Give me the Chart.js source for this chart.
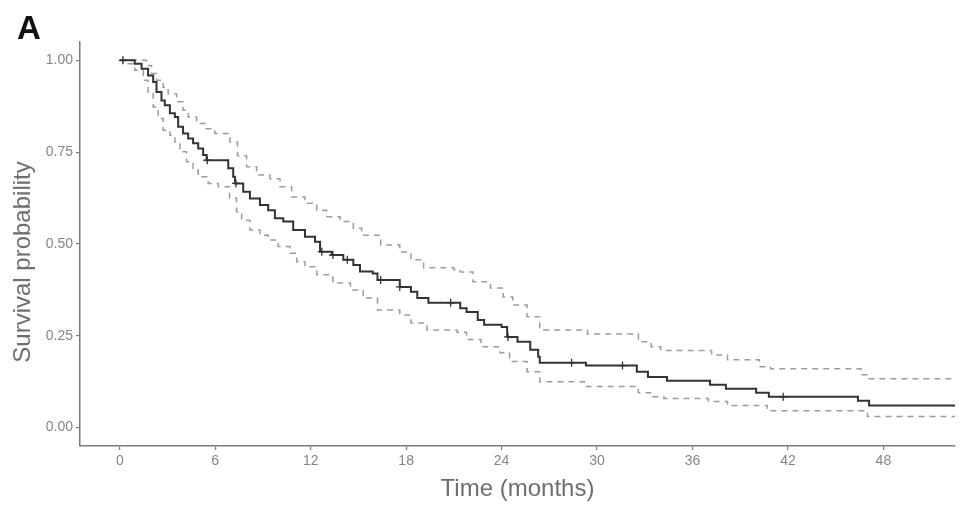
<!DOCTYPE html>
<html>
<head>
<meta charset="utf-8">
<script src="https://cdn.jsdelivr.net/npm/chart.js@4"></script>
<style>
  body { margin: 0; background: #fff; }
  #wrap { position: relative; width: 969px; height: 515px; }
  #panel {
    position: absolute; left: 17px; top: 11px;
    font: bold 33px "Liberation Sans", Arial, sans-serif;
    line-height: 33px; color: #111;
  }
</style>
</head>
<body>
<div id="wrap">
  <canvas id="myChart" width="969" height="515"></canvas>
  <div id="panel">A</div>
</div>
<script>
// Kaplan-Meier estimate (months, survival probability)
const survTime = [0, 0.94, 1.37, 1.78, 2.10, 2.31, 2.62, 2.83, 3.15, 3.46, 3.67, 3.98, 4.30, 4.61, 4.93, 5.24, 5.46, 6.82, 7.13, 7.24, 7.76, 8.18, 8.81, 9.33, 9.75, 10.28, 10.9, 11.64, 12.27, 12.59, 13.32, 14.05, 14.68, 15.1, 15.9, 16.2, 17.6, 18.3, 18.7, 19.4, 21.4, 21.8, 22.5, 22.9, 24.0, 24.35, 25.0, 25.8, 26.3, 26.4, 29.3, 32.5, 33.2, 34.4, 37.1, 38.1, 40.0, 40.8, 46.4, 47.1, 52.5];
const survProb = [1.0, 0.991, 0.977, 0.959, 0.941, 0.914, 0.891, 0.878, 0.856, 0.846, 0.819, 0.801, 0.787, 0.774, 0.760, 0.742, 0.728, 0.706, 0.683, 0.665, 0.642, 0.624, 0.606, 0.592, 0.570, 0.561, 0.538, 0.520, 0.506, 0.479, 0.470, 0.457, 0.443, 0.425, 0.42, 0.402, 0.383, 0.37, 0.353, 0.34, 0.325, 0.315, 0.293, 0.28, 0.274, 0.247, 0.234, 0.212, 0.193, 0.177, 0.169, 0.152, 0.138, 0.128, 0.117, 0.106, 0.095, 0.084, 0.073, 0.06, 0.06];

// upper 95% CI
const upperTime = [0, 1.68, 2.0, 2.31, 2.73, 3.04, 3.57, 3.98, 4.3, 4.83, 5.35, 5.98, 6.92, 7.4, 7.97, 8.6, 9.44, 10.07, 10.8, 11.64, 12.38, 13.0, 13.85, 14.68, 15.2, 16.4, 17.6, 18.3, 19.1, 21.0, 21.4, 22.2, 23.3, 24.1, 24.7, 25.6, 26.4, 29.4, 32.6, 33.4, 34.0, 37.2, 38.2, 40.2, 40.9, 46.6, 47.1, 52.5];
const upperProb = [1.0, 0.986, 0.964, 0.946, 0.927, 0.909, 0.887, 0.864, 0.846, 0.828, 0.814, 0.801, 0.778, 0.74, 0.710, 0.688, 0.678, 0.656, 0.628, 0.611, 0.592, 0.574, 0.561, 0.543, 0.524, 0.497, 0.478, 0.457, 0.435, 0.43, 0.424, 0.397, 0.38, 0.356, 0.334, 0.302, 0.266, 0.255, 0.234, 0.22, 0.21, 0.198, 0.185, 0.166, 0.16, 0.144, 0.133, 0.133];

// lower 95% CI
const lowerTime = [0, 0.2, 0.94, 1.47, 1.78, 2.1, 2.41, 2.73, 3.15, 3.46, 3.78, 4.2, 4.61, 4.93, 5.56, 6.19, 6.9, 7.34, 7.66, 8.18, 8.81, 9.33, 9.96, 10.7, 11.12, 11.64, 12.38, 13.4, 14.5, 15.3, 16.2, 17.6, 18.3, 19.3, 21.2, 21.8, 22.7, 23.9, 24.5, 25.6, 26.4, 29.2, 32.6, 33.5, 34.2, 37.0, 38.2, 40.7, 47.0, 52.5];
const lowerProb = [1.0, 0.991, 0.973, 0.946, 0.914, 0.873, 0.842, 0.81, 0.796, 0.778, 0.751, 0.724, 0.701, 0.683, 0.665, 0.656, 0.625, 0.588, 0.565, 0.538, 0.524, 0.511, 0.493, 0.475, 0.452, 0.438, 0.416, 0.394, 0.375, 0.353, 0.32, 0.307, 0.285, 0.266, 0.26, 0.24, 0.22, 0.204, 0.18, 0.152, 0.125, 0.112, 0.095, 0.084, 0.079, 0.071, 0.06, 0.046, 0.03, 0.03];

// censored observations
const censorTime = [0.2, 5.5, 7.3, 12.7, 13.4, 14.3, 16.4, 17.6, 20.8, 24.4, 28.4, 31.6, 41.7];
const censorProb = [1.0, 0.728, 0.665, 0.479, 0.47, 0.457, 0.402, 0.383, 0.34, 0.247, 0.177, 0.169, 0.084];

const xTicks = [0, 6, 12, 18, 24, 30, 36, 42, 48];
const yTicks = [0, 0.25, 0.5, 0.75, 1.0];

function pairs(xs, ys) {
  return xs.map(function (x, i) { return { x: x, y: ys[i] }; });
}

const axisColor = "#7a7a7a";
const font = "'Liberation Sans', Arial, sans-serif";

// y axis title, placed a bit lower than the chart area centre like the original
const yTitlePlugin = {
  id: "yTitle",
  afterDraw: function (chart) {
    const ctx = chart.ctx;
    ctx.save();
    ctx.translate(23, 262);
    ctx.rotate(-Math.PI / 2);
    ctx.fillStyle = "#6e6e6e";
    ctx.font = "24px " + font;
    ctx.textAlign = "center";
    ctx.textBaseline = "middle";
    ctx.fillText("Survival probability", 0, 0);
    ctx.restore();
  },
};

const config = {
  type: "line",
  data: {
    datasets: [
      {
        label: "censor",
        data: pairs(censorTime, censorProb),
        showLine: false,
        pointStyle: "cross",
        pointRadius: 4,
        pointBorderWidth: 1.3,
        pointBorderColor: "#333",
        order: 0,
      },
      {
        label: "Survival",
        data: pairs(survTime, survProb),
        stepped: "before",
        borderColor: "#333",
        borderWidth: 2,
        pointRadius: 0,
        order: 1,
      },
      {
        label: "Upper",
        data: pairs(upperTime, upperProb),
        stepped: "before",
        borderColor: "#9c9c9c",
        borderWidth: 1.5,
        borderDash: [6, 5],
        pointRadius: 0,
        order: 2,
      },
      {
        label: "Lower",
        data: pairs(lowerTime, lowerProb),
        stepped: "before",
        borderColor: "#9c9c9c",
        borderWidth: 1.5,
        borderDash: [6, 5],
        pointRadius: 0,
        order: 3,
      },
    ],
  },
  options: {
    responsive: false,
    devicePixelRatio: 1,
    animation: false,
    layout: { padding: { left: 0, top: 42, right: 14, bottom: 0 } },
    plugins: {
      legend: { display: false },
      tooltip: { enabled: false },
    },
    scales: {
      x: {
        type: "linear",
        min: -2.5,
        max: 52.5,
        afterBuildTicks: function (scale) {
          scale.ticks = xTicks.map(function (v) { return { value: v }; });
        },
        afterFit: function (scale) { scale.height = 69; },
        grid: { display: true, drawOnChartArea: false, drawTicks: true, tickLength: 4, color: axisColor, lineWidth: 1.2 },
        border: { display: true, color: axisColor, width: 1.5 },
        ticks: {
          color: "#858585",
          padding: 3,
          font: { family: font, size: 14 },
          maxRotation: 0,
          callback: function (v) { return String(v); },
        },
        title: {
          display: true,
          text: "Time (months)",
          color: "#6e6e6e",
          font: { family: font, size: 24 },
          padding: { top: 0, bottom: 11 },
        },
      },
      y: {
        type: "linear",
        min: -0.05,
        max: 1.05,
        afterBuildTicks: function (scale) {
          scale.ticks = yTicks.map(function (v) { return { value: v }; });
        },
        afterFit: function (scale) { scale.width = 80; },
        grid: { display: true, drawOnChartArea: false, drawTicks: true, tickLength: 4, color: axisColor, lineWidth: 1.2 },
        border: { display: true, color: axisColor, width: 1.5 },
        ticks: {
          color: "#858585",
          padding: 3,
          font: { family: font, size: 14 },
          callback: function (v) { return Number(v).toFixed(2); },
        },
        title: { display: false },
      },
    },
  },
  plugins: [yTitlePlugin],
};

new Chart(document.getElementById("myChart"), config);
</script>
</body>
</html>
